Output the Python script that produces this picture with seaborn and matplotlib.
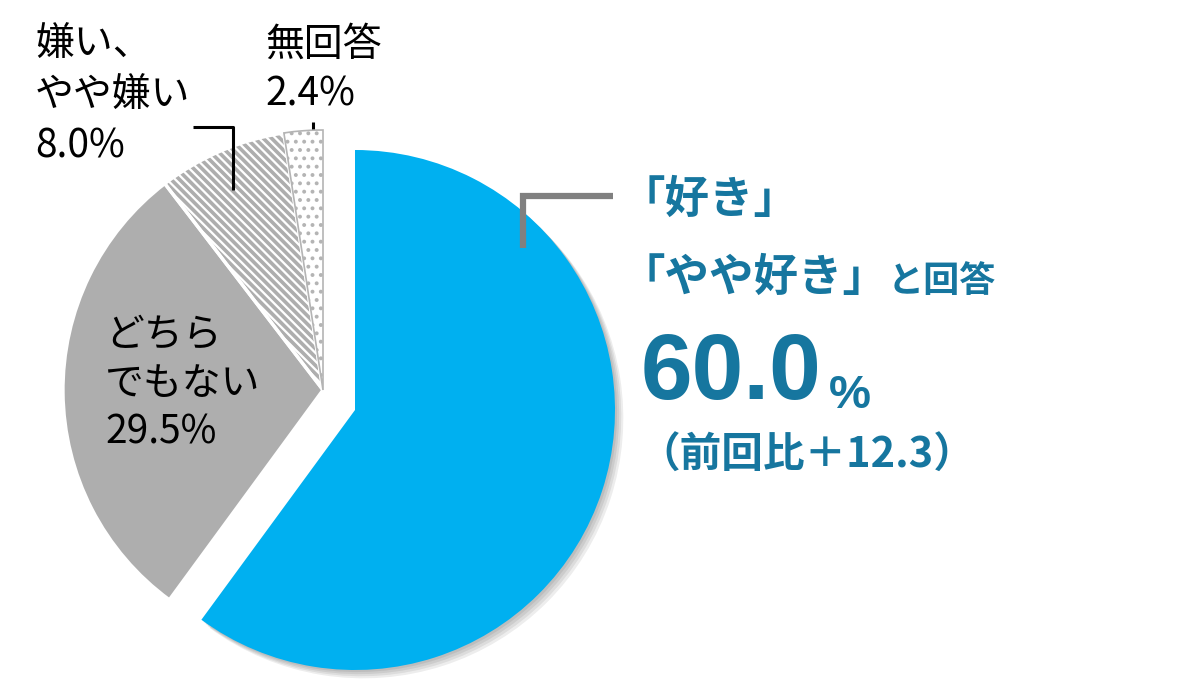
import numpy as np
import matplotlib
matplotlib.use('Agg')
import matplotlib.pyplot as plt
import matplotlib.patheffects as pe
from matplotlib import font_manager
import seaborn as sns

# データ
categories = ['「好き」「やや好き」', 'どちらでもない', '嫌い、やや嫌い', '無回答']
values = [60.0, 29.5, 8.0, 2.4]
diff_prev = 12.3

sns.set_theme(style='white')
plt.rcParams['font.family'] = ['Noto Sans CJK JP', 'DejaVu Sans']
plt.rcParams['hatch.linewidth'] = 2.6

installed = {f.name for f in font_manager.fontManager.ttflist}
narrow = 'Liberation Sans Narrow' if 'Liberation Sans Narrow' in installed else 'Liberation Sans'
big_size = 76 if narrow == 'Liberation Sans Narrow' else 67

blue = '#00B0F0'
grey = '#AEAEAE'
dot_grey = '#B4B4B4'
text_blue = '#16769F'
W, H = 1196, 699

fig = plt.figure(figsize=(W / 100, H / 100), dpi=100)
ax = fig.add_axes([0, 0, 1, 1])

R = 260
center = (323, H - 390)

wedges, _ = ax.pie(values, startangle=90, counterclock=False, radius=R,
                   center=center, colors=[blue, grey, 'white', 'white'],
                   wedgeprops=dict(linewidth=0))
# 斜線と点のハッチ
wedges[2].set_edgecolor(grey)
wedges[2].set_hatch('\\\\\\\\')
wedges[3].set_edgecolor(dot_grey)
wedges[3].set_hatch('..')
wedges[3].set_linewidth(1.2)
if hasattr(wedges[3], 'set_hatch_linewidth'):
    wedges[3].set_hatch_linewidth(1.6)

# 白い区切り線
edges, _ = ax.pie(values, startangle=90, counterclock=False, radius=R,
                  center=center, colors=['none'] * 4,
                  wedgeprops=dict(edgecolor='white', linewidth=2.4))
edges[0].remove()
wedges[3].set_zorder(3)

# 「好き」を切り出して影をつける
wedges[0].set_center((355, H - 410))
wedges[0].set_path_effects(
    [pe.SimplePatchShadow(offset=(o, -o), shadow_rgbFace='black', alpha=0.07)
     for o in (1.5, 3, 4.5, 6)] + [pe.Normal()])

ax.set_xlim(0, W)
ax.set_ylim(0, H)
ax.set_aspect('equal')
ax.axis('off')


def stack(x, centers, lines, **kw):
    for yc, s in zip(centers, lines):
        ax.text(x, H - yc, s, ha='left', va='center', **kw)


# 左側のラベル
stack(35, [45, 96, 146], ['嫌い、', 'やや嫌い', f'{values[2]:.1f}%'],
      fontsize=28, color='black')
stack(265, [45, 95], [categories[3], f'{values[3]:.1f}%'],
      fontsize=28, color='black')
stack(105, [335, 384, 433], ['どちら', 'でもない', f'{values[1]:.1f}%'],
      fontsize=28, color='black')

# 引き出し線
ax.plot([193, 233, 233], [H - 127, H - 127, H - 190], color='black', lw=2.2,
        solid_capstyle='butt')
ax.plot([313, 313], [H - 122, H - 176], color='black', lw=2.2,
        solid_capstyle='butt')
ax.plot([523, 523, 613], [H - 248, H - 196, H - 196], color='#808080', lw=4.5,
        solid_capstyle='butt', solid_joinstyle='miter')

# 右側の強調テキスト
ax.text(621, H - 200, '「好き」', ha='left', va='center', fontsize=32,
        fontweight='bold', color=text_blue)
t2 = ax.text(621, H - 278, '「やや好き」', ha='left', va='center', fontsize=32,
             fontweight='bold', color=text_blue)
ax.annotate('と回答', xy=(1, 0), xycoords=t2, xytext=(0, 1),
            textcoords='offset points', ha='left', va='bottom', fontsize=26,
            fontweight='bold', color=text_blue)
t60 = ax.text(641, H - 375, f'{values[0]:.1f}', ha='left', va='center',
              fontsize=big_size, fontweight='bold', color=text_blue,
              family=[narrow, 'DejaVu Sans'])
ax.annotate('%', xy=(1, 0), xycoords=t60, xytext=(5, 0),
            textcoords='offset points', ha='left', va='bottom', fontsize=34,
            fontweight='bold', color=text_blue, family=[narrow, 'DejaVu Sans'])
ax.text(638, H - 456, f'（前回比＋{diff_prev:.1f}）', ha='left', va='center',
        fontsize=30, fontweight='bold', color=text_blue)

fig.savefig('out.png', dpi=100, facecolor='white')
